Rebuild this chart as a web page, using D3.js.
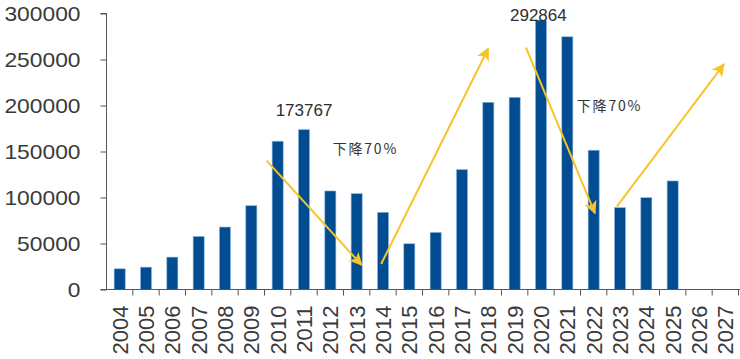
<!DOCTYPE html>
<html>
<head>
<meta charset="utf-8">
<script src="https://cdn.jsdelivr.net/npm/d3@7/dist/d3.min.js"></script>
<style>
  html, body { margin: 0; padding: 0; background: #fff; }
  svg { display: block; }
</style>
</head>
<body>
<svg id="chart" width="740" height="359"></svg>
<script>
// ---- data ----
const years = ["2004","2005","2006","2007","2008","2009","2010","2011","2012","2013","2014","2015","2016","2017","2018","2019","2020","2021","2022","2023","2024","2025","2026","2027"];
const values = [22500, 24300, 35200, 57700, 67900, 91100, 161200, 173767, 107100, 104200, 83900, 49700, 62100, 130300, 203500, 208900, 292864, 274700, 151400, 89000, 99800, 118000, null, null];
const yTicks = [0, 50000, 100000, 150000, 200000, 250000, 300000];

// value labels: [category position (band index), value position, text]
const valueLabels = [
  { pos: 7.5, val: 188500, text: "173767" },
  { pos: 16.4, val: 292300, text: "292864" }
];
// notes
const notes = [
  { pos: 8.59, val: 147300, text: "下降70%" },
  { pos: 17.86, val: 193500, text: "下降70%" }
];
// trend arrows: from [band index, value] to [band index, value]
const arrows = [
  { x1: 6.08, v1: 140000, x2: 9.69, v2: 26600 },
  { x1: 10.43, v1: 27700, x2: 14.5, v2: 262200 },
  { x1: 15.93, v1: 262800, x2: 18.55, v2: 82800 },
  { x1: 19.38, v1: 90000, x2: 23.45, v2: 245100 }
];

// ---- layout ----
const svg = d3.select("#chart");
const mLeft = 106.5, mRight = 738.5, mTop = 13.5, mBottom = 289.5;

const x = d3.scaleBand().domain(years).range([mLeft, mRight]).paddingInner(0.58).paddingOuter(0.29);
const xi = d3.scaleLinear().domain([0, years.length]).range([mLeft, mRight]);
const y = d3.scaleLinear().domain([0, 300000]).range([mBottom, mTop]);

const axisColor = "#555";
const textColor = "#3a3a3a";

// bars
svg.append("g").selectAll("rect")
  .data(years.map((yr, i) => ({ yr, v: values[i] })).filter(d => d.v != null))
  .join("rect")
  .attr("x", d => x(d.yr))
  .attr("width", x.bandwidth())
  .attr("y", d => y(d.v))
  .attr("height", d => mBottom - y(d.v))
  .attr("fill", "#024d91")
  .attr("stroke", "#8db8e0")
  .attr("stroke-width", 0.6);

// y axis
const yAxis = svg.append("g")
  .attr("transform", `translate(${mLeft},0)`)
  .call(d3.axisLeft(y).tickValues(yTicks).tickFormat(d3.format("d")).tickSize(6).tickPadding(20));
yAxis.select(".domain").attr("stroke", axisColor).attr("d", `M-6,${mTop}H0V${mBottom}`);
yAxis.selectAll(".tick line").attr("stroke", axisColor);
yAxis.selectAll(".tick text")
  .attr("font-family", "'Liberation Sans', Arial, sans-serif")
  .attr("font-size", 20)
  .attr("fill", textColor)
  .attr("x", null)
  .attr("transform", "translate(-26,0) scale(1.14,1)")
  .attr("dy", "0.35em");

// x axis
const xAxis = svg.append("g")
  .attr("transform", `translate(0,${mBottom})`)
  .call(d3.axisBottom(x).tickSize(0).tickPadding(0));
xAxis.select(".domain").attr("stroke", axisColor).attr("d", `M${mLeft - 6},0H${mRight + 2}`);
// boundary tick marks
xAxis.append("g").selectAll("line")
  .data(d3.range(1, years.length + 1))
  .join("line")
  .attr("x1", i => xi(i)).attr("x2", i => xi(i))
  .attr("y1", 0).attr("y2", 6)
  .attr("stroke", axisColor);
xAxis.selectAll(".tick text")
  .attr("font-family", "'Liberation Sans', Arial, sans-serif")
  .attr("font-size", 22)
  .attr("fill", textColor)
  .attr("text-anchor", "end")
  .attr("y", 0)
  .attr("dy", 0)
  .attr("transform", "translate(8,16) rotate(-90)");

// arrows
const defs = svg.append("defs");
defs.append("marker")
  .attr("id", "ah")
  .attr("viewBox", "0 0 12 12")
  .attr("refX", 11).attr("refY", 6)
  .attr("markerWidth", 13).attr("markerHeight", 13)
  .attr("markerUnits", "userSpaceOnUse")
  .attr("orient", "auto")
  .append("path")
  .attr("d", "M0,0 L12,6 L0,12 L3,6 Z")
  .attr("fill", "#f7c325");

svg.append("g").selectAll("line")
  .data(arrows)
  .join("line")
  .attr("x1", d => xi(d.x1)).attr("y1", d => y(d.v1))
  .attr("x2", d => xi(d.x2)).attr("y2", d => y(d.v2))
  .attr("stroke", "#f7c325")
  .attr("stroke-width", 2)
  .attr("marker-end", "url(#ah)");

// value labels
svg.append("g").selectAll("text")
  .data(valueLabels)
  .join("text")
  .attr("x", d => xi(d.pos))
  .attr("y", d => y(d.val))
  .attr("text-anchor", "middle")
  .attr("font-family", "'Liberation Sans', Arial, sans-serif")
  .attr("font-size", 17)
  .attr("fill", "#2e2e2e")
  .text(d => d.text);

// notes
svg.append("g").selectAll("text")
  .data(notes)
  .join("text")
  .attr("x", d => xi(d.pos))
  .attr("y", d => y(d.val))
  .attr("font-family", "'Noto Sans CJK SC', sans-serif")
  .attr("font-size", 14)
  .attr("letter-spacing", 1.8)
  .attr("fill", "#333")
  .text(d => d.text);
</script>
</body>
</html>
